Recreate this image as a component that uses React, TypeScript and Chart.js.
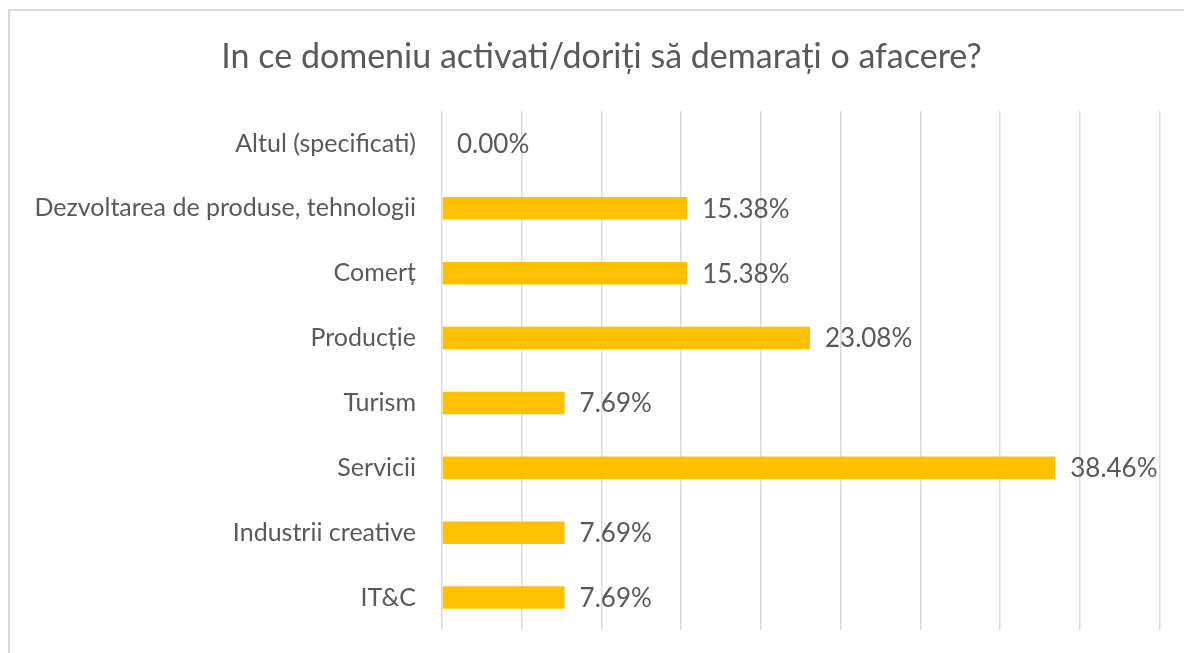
import React, { useEffect, useRef } from "react";
import { Chart, registerables } from "chart.js";

Chart.register(...registerables);

const TITLE = "In ce domeniu activati/doriți să demarați o afacere?";
const categories = [
  "Altul (specificati)",
  "Dezvoltarea de produse, tehnologii",
  "Comerț",
  "Producție",
  "Turism",
  "Servicii",
  "Industrii creative",
  "IT&C",
];
const values = [0.0, 15.38, 15.38, 23.08, 7.69, 38.46, 7.69, 7.69];
const axisMin = 0;
const axisMax = 45;
const axisStep = 5;

const TEXT = "#595959";
const BAR = "#FFC000";
const GRID = "#D9D9D9";
const FONT = "Lato";

const valueLabels = {
  id: "valueLabels",
  afterDatasetsDraw(chart: any) {
    const ctx = chart.ctx;
    const meta = chart.getDatasetMeta(0);
    ctx.save();
    ctx.fillStyle = TEXT;
    ctx.font = `26px ${FONT}`;
    ctx.textAlign = "left";
    ctx.textBaseline = "middle";
    meta.data.forEach((el: any, i: number) => {
      ctx.fillText(values[i].toFixed(2) + "%", el.x + 15, el.y + 1);
    });
    ctx.restore();
  },
};

// Chart title, centred over the whole chart frame (as in the spreadsheet chart)
const frameTitle = {
  id: "frameTitle",
  afterDraw(chart: any) {
    const ctx = chart.ctx;
    ctx.save();
    ctx.fillStyle = TEXT;
    ctx.font = `34px ${FONT}`;
    ctx.textAlign = "center";
    ctx.textBaseline = "middle";
    ctx.fillText(TITLE, 601.5, 57);
    ctx.restore();
  },
};

export default function App() {
  const ref = useRef<HTMLCanvasElement | null>(null);
  useEffect(() => {
    if (!ref.current) return;
    const chart = new Chart(ref.current, {
      type: "bar",
      data: {
        labels: categories,
        datasets: [
          {
            data: values,
            backgroundColor: BAR,
            borderWidth: 0,
            barPercentage: 0.345,
            categoryPercentage: 1,
          },
        ],
      },
      plugins: [valueLabels, frameTitle],
      options: {
        indexAxis: "y",
        animation: false,
        responsive: false,
        maintainAspectRatio: false,
        layout: { padding: { left: 0, right: 24.5, top: 111, bottom: 23 } },
        plugins: {
          legend: { display: false },
          tooltip: { enabled: false },
          title: { display: false },
        },
        scales: {
          x: {
            min: axisMin,
            max: axisMax,
            ticks: { display: false, stepSize: axisStep },
            grid: { color: GRID, lineWidth: 1.5, drawTicks: false },
            border: { display: false },
            afterFit: (s: any) => {
              s.height = 0;
              s.paddingLeft = 0;
              s.paddingRight = 0;
            },
          },
          y: {
            ticks: {
              color: TEXT,
              font: { family: FONT, size: 25 },
              padding: 26,
            },
            grid: { display: false, drawTicks: false },
            border: { display: false },
            afterFit: (s: any) => {
              s.width = 442;
              s.paddingTop = 0;
              s.paddingBottom = 0;
            },
          },
        },
      },
    });
    return () => chart.destroy();
  }, []);

  return (
    <div
      style={{
        position: "fixed",
        left: 0,
        top: 0,
        width: 1184,
        height: 653,
        overflow: "hidden",
        background: "#fff",
      }}
    >
      <div
        style={{
          position: "absolute",
          left: 8,
          top: 9,
          width: 1400,
          height: 1000,
          border: `2px solid ${GRID}`,
        }}
      />
      <canvas
        ref={ref}
        width={1184}
        height={653}
        style={{ position: "absolute", left: 0, top: 0, width: 1184, height: 653 }}
      />
    </div>
  );
}
